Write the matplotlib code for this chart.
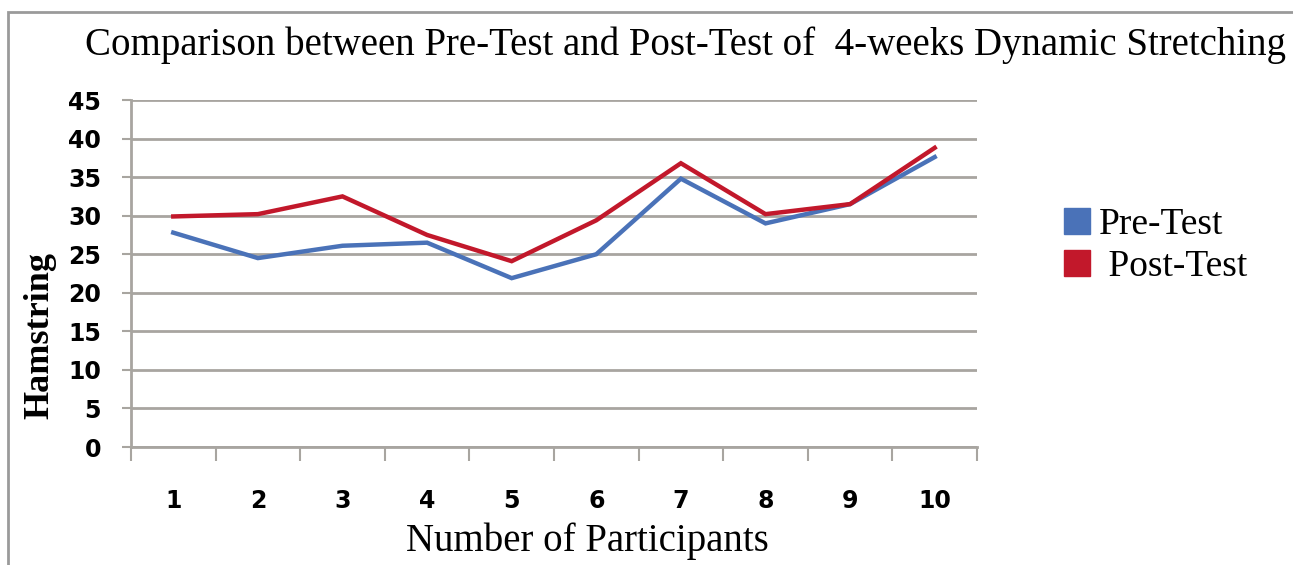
import matplotlib.pyplot as plt
from matplotlib.lines import Line2D
from matplotlib.patches import Rectangle

participants = ['1', '2', '3', '4', '5', '6', '7', '8', '9', '10']
pre_test = [27.8, 24.5, 26.1, 26.5, 21.9, 25.0, 34.8, 29.0, 31.5, 37.6]
post_test = [29.9, 30.2, 32.5, 27.5, 24.1, 29.4, 36.8, 30.2, 31.5, 38.8]

blue = '#4A72B8'
red = '#C2182B'
grid_col = '#A8A5A0'

fig = plt.figure(figsize=(12.93, 5.65), dpi=100)
ax = fig.add_axes([0.1013, 0.2088, 0.6543, 0.6142])

x = list(range(len(participants)))
ax.plot(x, pre_test, color=blue, lw=3.2, solid_joinstyle='miter')
ax.plot(x, post_test, color=red, lw=3.2, solid_joinstyle='miter')

ax.set_xlim(-0.5, len(participants) - 0.5)
ax.set_ylim(0, 45)
ax.set_yticks(range(0, 46, 5))
ax.yaxis.grid(True, color=grid_col, lw=2)
ax.set_axisbelow(True)

# category axis: ticks sit between categories, labels centred
ax.set_xticks([i - 0.5 for i in range(len(participants) + 1)])
ax.set_xticklabels([])
ax.set_xticks(x, minor=True)
ax.set_xticklabels(participants, minor=True)
ax.tick_params(axis='x', which='major', length=10, width=1.5, color=grid_col, direction='out')
ax.tick_params(axis='x', which='minor', length=0, pad=30)
ax.tick_params(axis='y', length=6.5, width=1.5, color=grid_col, pad=15)

for lab in ax.get_xticklabels(minor=True) + ax.get_yticklabels():
    lab.set_fontfamily('DejaVu Sans')
    lab.set_fontweight('bold')
    lab.set_fontsize(17)

for s in ['top', 'right']:
    ax.spines[s].set_visible(False)
for s in ['left', 'bottom']:
    ax.spines[s].set_color(grid_col)
    ax.spines[s].set_linewidth(2)

fig.text(0.53, 0.92, 'Comparison between Pre-Test and Post-Test of  4-weeks Dynamic Stretching',
         ha='center', va='center', fontsize=28, family='Liberation Serif')
fig.text(0.454, 0.042, 'Number of Participants', ha='center', va='center',
         fontsize=28, family='Liberation Serif')
fig.text(0.031, 0.407, 'Hamstring', rotation=90, ha='center', va='center',
         fontsize=26, family='Liberation Serif', fontweight='bold')

handles = [Line2D([], [], ls='none', marker='s', markersize=19, color=blue),
           Line2D([], [], ls='none', marker='s', markersize=19, color=red)]
fig.legend(handles, ['Pre-Test', ' Post-Test'], loc='center left',
           bbox_to_anchor=(0.792, 0.565), frameon=False, handletextpad=0.1,
           labelspacing=0.2, handlelength=1.0, prop={'family': 'Liberation Serif', 'size': 27})

# outer frame of the original figure
fig.patches.append(Rectangle((0.006, -0.1), 1.1, 1.079, transform=fig.transFigure,
                             fill=False, ec='#9A9A9A', lw=2))

fig.savefig('out.png', dpi=100)
